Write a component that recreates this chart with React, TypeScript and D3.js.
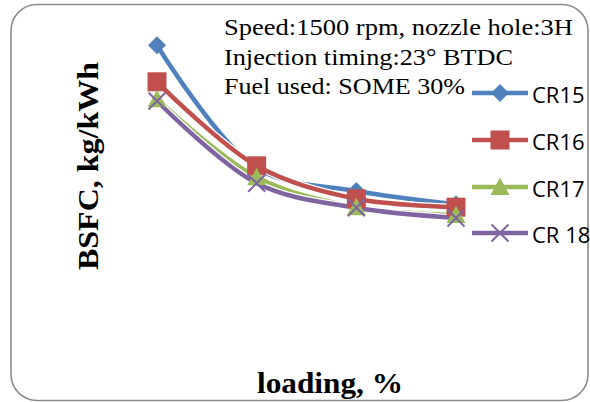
import React from "react";
import * as d3 from "d3";

const loading = [25, 50, 75, 100];
const seriesNames = ["CR15", "CR16", "CR17", "CR 18"];
const cr15 = [0.558, 0.353, 0.315, 0.293];
const cr16 = [0.497, 0.357, 0.302, 0.288];
const cr17 = [0.468, 0.338, 0.288, 0.275];
const cr18 = [0.465, 0.328, 0.287, 0.27];
const annotation = [
  "Speed:1500 rpm, nozzle hole:3H",
  "Injection timing:23° BTDC",
  "Fuel used: SOME 30%",
];

const colors = ["#4F81BD", "#C0504D", "#9BBB59", "#8064A2"];
const markers = ["diamond", "square", "triangle", "cross"];

const W = 590;
const H = 402;

function Marker({ type, x, y, color }: { type: string; x: number; y: number; color: string }) {
  if (type === "diamond") {
    const s = 9;
    return <path d={`M${x},${y - s}L${x + s},${y}L${x},${y + s}L${x - s},${y}Z`} fill={color} />;
  }
  if (type === "square") {
    const s = 9.5;
    return <rect x={x - s} y={y - s} width={2 * s} height={2 * s} fill={color} />;
  }
  if (type === "triangle") {
    const s = 9.5;
    return <path d={`M${x},${y - s}L${x + s},${y + s * 0.85}L${x - s},${y + s * 0.85}Z`} fill={color} />;
  }
  const s = 8.5;
  return (
    <path
      d={`M${x - s},${y - s}L${x + s},${y + s}M${x - s},${y + s}L${x + s},${y - s}`}
      stroke={color}
      strokeWidth={2}
      fill="none"
    />
  );
}

export default function App() {
  const data = [cr15, cr16, cr17, cr18];
  const x = d3.scaleLinear().domain([25, 100]).range([157, 456]);
  const y = d3.scaleLinear().domain([0, 0.6]).range([380, 20]);
  const line = d3
    .line<number>()
    .x((_, i) => x(loading[i]))
    .y((d) => y(d))
    .curve(d3.curveCatmullRom.alpha(0.5));

  const legendY = [93, 140, 187, 233];
  const annoLen = [349, 289, 241];

  return (
    <svg
      width={W}
      height={H}
      style={{ position: "absolute", left: 0, top: 0 }}
      xmlns="http://www.w3.org/2000/svg"
    >
      <rect x={0} y={0} width={W} height={H} fill="#fff" />
      <rect
        x={11}
        y={4.5}
        width={577}
        height={396}
        rx={26}
        ry={26}
        fill="#fff"
        stroke="#8c8c8c"
        strokeWidth={1.6}
      />
      {data.map((vals, si) => (
        <g key={si}>
          <path d={line(vals) || ""} fill="none" stroke="#fff" strokeWidth={7} strokeLinejoin="round" />
          <path d={line(vals) || ""} fill="none" stroke={colors[si]} strokeWidth={4.5} strokeLinejoin="round" />
        </g>
      ))}
      {data.map((vals, si) => (
        <g key={"m" + si}>
          {vals.map((v, i) => (
            <Marker key={i} type={markers[si]} x={x(loading[i])} y={y(v)} color={colors[si]} />
          ))}
        </g>
      ))}
      <g fontFamily="Liberation Serif, Times New Roman, serif" fontSize={23.5} fill="#000">
        {annotation.map((t, i) => (
          <text key={i} x={224} y={35 + i * 29.5} textLength={annoLen[i]} lengthAdjust="spacingAndGlyphs">
            {t}
          </text>
        ))}
      </g>
      {seriesNames.map((n, si) => (
        <g key={"l" + si}>
          <line x1={472} x2={528} y1={legendY[si]} y2={legendY[si]} stroke={colors[si]} strokeWidth={4.7} />
          <Marker type={markers[si]} x={500} y={legendY[si]} color={colors[si]} />
          <text
            x={532}
            y={legendY[si] + 10}
            fontFamily="Open Sans, Liberation Sans, sans-serif"
            fontSize={22}
            fill="#000"
          >
            {n}
          </text>
        </g>
      ))}
      <text
        transform="translate(98,166) rotate(-90)"
        textAnchor="middle"
        fontFamily="Liberation Serif, Times New Roman, serif"
        fontWeight="bold"
        fontSize={30}
        fill="#000"
        textLength={208}
        lengthAdjust="spacingAndGlyphs"
      >
        BSFC, kg/kWh
      </text>
      <text
        x={330}
        y={393}
        textAnchor="middle"
        fontFamily="Liberation Serif, Times New Roman, serif"
        fontWeight="bold"
        fontSize={30}
        fill="#000"
        textLength={146}
        lengthAdjust="spacingAndGlyphs"
      >
        loading, %
      </text>
    </svg>
  );
}
